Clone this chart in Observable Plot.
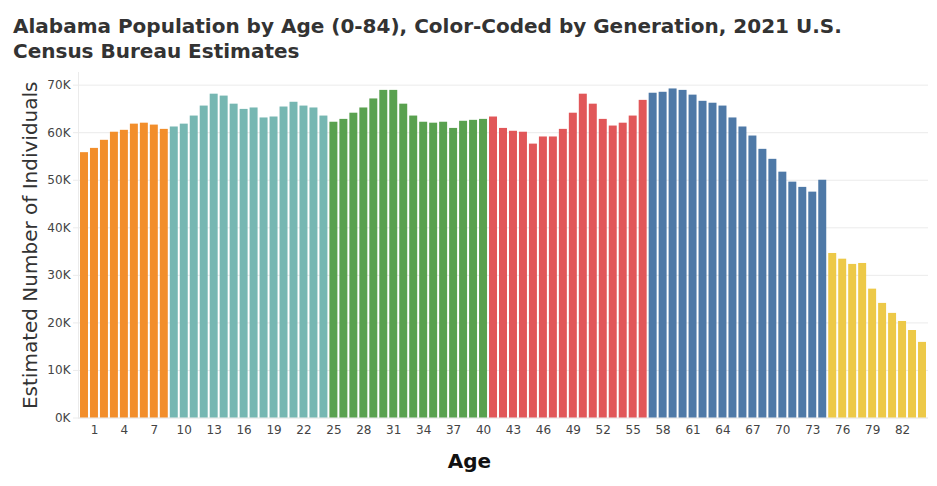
<!DOCTYPE html>
<html>
<head>
<meta charset="utf-8">
<script src="https://cdn.jsdelivr.net/npm/d3@7"></script>
<script src="https://cdn.jsdelivr.net/npm/@observablehq/plot@0.6"></script>
<style>
  html, body { margin: 0; padding: 0; background: white; }
  #title { font-family: "DejaVu Sans", sans-serif; font-weight: bold; font-size: 20px; color: #333;
           line-height: 25px; padding: 14px 0 0 13px; height: 54px; box-sizing: content-box; width: 880px; }
  #chart svg { display: block; }
</style>
</head>
<body>
<div id="title">Alabama Population by Age (0-84), Color-Coded by Generation, 2021 U.S. Census Bureau Estimates</div>
<div id="chart"></div>
<script>
const ages = [0,1,2,3,4,5,6,7,8,9,10,11,12,13,14,15,16,17,18,19,20,21,22,23,24,25,26,27,28,29,30,31,32,33,34,35,36,37,38,39,40,41,42,43,44,45,46,47,48,49,50,51,52,53,54,55,56,57,58,59,60,61,62,63,64,65,66,67,68,69,70,71,72,73,74,75,76,77,78,79,80,81,82,83,84];
const population = [55800, 56700, 58400, 60100, 60500, 61800, 62000, 61600, 60700, 61200,
  61800, 63500, 65600, 68100, 67700, 66000, 64900, 65200, 63100, 63300,
  65400, 66400, 65600, 65200, 63500, 62200, 62800, 64100, 65200, 67100,
  68900, 68900, 66000, 63500, 62200, 62000, 62200, 60900, 62400, 62600,
  62800, 63300, 60900, 60300, 60100, 57600, 59100, 59100, 60700, 64100,
  68100, 66000, 62800, 61400, 62000, 63500, 66800, 68300, 68500, 69200,
  68900, 67900, 66600, 66200, 65600, 63100, 61200, 59300, 56500, 54400,
  51700, 49600, 48500, 47500, 50000, 34600, 33400, 32300, 32500, 27100,
  24100, 22000, 20300, 18400, 15900];
const generations = ["Gen Alpha", "Gen Z", "Millennials", "Gen X", "Baby Boomers", "Silent Generation"];
const generationStartAge = [0, 9, 25, 41, 57, 75];
const generationColors = ["#f28e2b", "#76b7b2", "#59a14f", "#e15759", "#4e79a7", "#edc948"];
const xTicks = [1,4,7,10,13,16,19,22,25,28,31,34,37,40,43,46,49,52,55,58,61,64,67,70,73,76,79,82];
const yTicks = [0,10000,20000,30000,40000,50000,60000,70000];

const genOf = a => { let g = 0; generationStartAge.forEach((s, i) => { if (a >= s) g = i; }); return generations[g]; };
const data = ages.map((a, i) => ({age: a, population: population[i], generation: genOf(a)}));

const chart = Plot.plot({
  width: 937,
  height: 418,
  marginTop: 4,
  marginLeft: 78,
  marginRight: 9,
  marginBottom: 68.5,
  style: {fontFamily: "DejaVu Sans, sans-serif", fontSize: "12px", color: "#444", background: "white"},
  x: {type: "band", domain: ages, padding: 0.2, label: null, axis: null},
  y: {domain: [0, d3.max(population) * 1.05], label: null, axis: null},
  color: {domain: generations, range: generationColors},
  marks: [
    Plot.gridY(yTicks, {stroke: "#ebebeb", strokeOpacity: 1}),
    Plot.ruleY([0], {stroke: "#ebebeb"}),
    Plot.frame({anchor: "left", stroke: "#ebebeb"}),
    Plot.barY(data, {x: "age", y: "population", fill: "generation"}),
    Plot.axisY(yTicks, {tickFormat: d => d / 1000 + "K", tickSize: 5, tickPadding: 3, stroke: "#ebebeb", strokeOpacity: 1, fill: "#444", label: null}),
    Plot.axisX(xTicks, {tickSize: 0, tickPadding: 7, fill: "#444", label: null}),
    Plot.text(["Estimated Number of Individuals"], {frameAnchor: "left", textAnchor: "middle", rotate: -90, dx: -48, fontSize: 20, fill: "#333"}),
    Plot.text(["Age"], {frameAnchor: "bottom", dy: 49.5, dx: -34, fontSize: 20, fontWeight: "bold", fill: "#111"})
  ]
});
document.getElementById("chart").appendChild(chart);
</script>
</body>
</html>
